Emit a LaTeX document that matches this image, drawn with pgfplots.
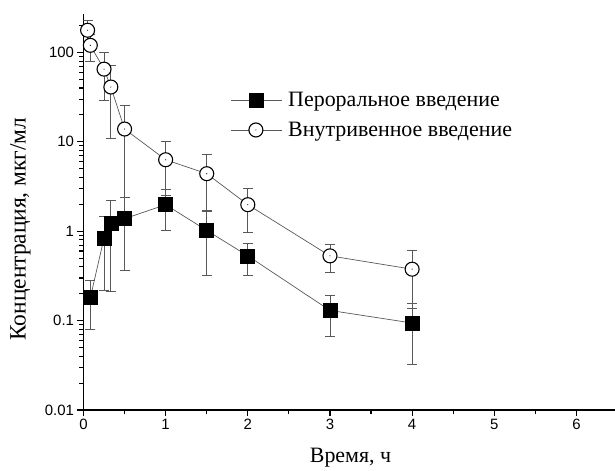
\documentclass[border=0pt]{standalone}
\usepackage{pgfplots}
\pgfplotsset{compat=1.18}
\usepackage{pgfplotstable}
\usepackage{fontspec}
\setmainfont{Liberation Serif}
\newfontfamily\arialfont{Liberation Sans}
\definecolor{ln}{gray}{0.35}

\pgfdeclareplotmark{codot}{%
  \pgfpathcircle{\pgfpointorigin}{\pgfplotmarksize}%
  \pgfusepathqfillstroke
  \begin{pgfscope}%
  \pgfsetfillcolor{black}%
  \pgfpathcircle{\pgfpointorigin}{0.6bp}%
  \pgfusepathqfill
  \end{pgfscope}}

\pgfplotstableread{
x y e
0.083 0.18 0.10
0.25 0.84 0.62
0.333 1.21 1.0
0.5 1.38 1.02
1 1.98 0.95
1.5 1.02 0.70
2 0.53 0.21
3 0.13 0.063
4 0.094 0.062
}\oral

\pgfplotstableread{
x y e
0.05 177 52
0.083 120 41
0.25 65 36
0.333 41 30
0.5 13.9 11.5
1 6.3 3.8
1.5 4.4 2.75
2 1.98 1.0
3 0.53 0.18
4 0.376 0.24
}\iv

\begin{document}
\begin{tikzpicture}
\begin{axis}[
  scale only axis, width=534bp, height=396bp,
  xmin=0, xmax=6.5, ymode=log, ymin=0.01, ymax=269,
  axis x line=bottom, axis y line=left,
  axis line style={-, line width=1.3bp},
  tick align=outside,
  xtick={0,1,2,3,4,5,6}, xticklabels={0,1,2,3,4,5,6}, minor x tick num=1,
  ytick={0.01,0.1,1,10,100}, yticklabels={0.01,0.1,1,10,100},
  minor ytick={0.02,0.03,0.04,0.05,0.06,0.07,0.08,0.09,
               0.2,0.3,0.4,0.5,0.6,0.7,0.8,0.9,
               2,3,4,5,6,7,8,9,20,30,40,50,60,70,80,90,200},
  major tick length=6bp, minor tick length=4bp,
  every tick/.style={black, line width=1.1bp},
  every minor tick/.style={black, line width=1.1bp},
  ticklabel style={font=\arialfont\fontsize{15}{15}\selectfont},
  xlabel={Время, ч}, ylabel={Концентрация, мкг/мл},
  xlabel style={font=\fontsize{22}{22}\selectfont,
    at={(axis description cs:0.5,0)}, anchor=center, yshift=-48bp},
  ylabel style={font=\fontsize{23.5}{23.5}\selectfont,
    at={(axis description cs:0,0.457)}, anchor=center, yshift=63bp},
  legend cell align=left,
  legend style={at={(axis description cs:0.275,0.808)}, anchor=north west,
    draw=none, fill=none, font=\fontsize{22}{22}\selectfont,
    row sep=10bp, inner sep=0pt,
    nodes={inner xsep=6bp}},
  legend image code/.code={%
    \draw[#1, mark=none] (0bp,0bp)--(19bp,0bp) (31bp,0bp)--(51bp,0bp);
    \draw[#1, mark size=3.5bp] plot coordinates {(25bp,0bp)};},
]
\addplot[ln, line width=0.7bp, mark=square*,
  mark options={solid, black, fill=black, mark size=7bp},
  error bars/.cd, y dir=both, y explicit,
  error bar style={ln, line width=0.8bp},
  error mark options={rotate=90, mark size=5bp, ln, line width=0.8bp}]
  table[x=x, y=y, y error=e] {\oral};
\addlegendentry{Пероральное введение}
\addplot[ln, line width=0.7bp, mark=codot,
  mark options={solid, draw=black, fill=white, line width=1.1bp, mark size=7bp},
  error bars/.cd, y dir=both, y explicit,
  error bar style={ln, line width=0.8bp},
  error mark options={rotate=90, mark size=5bp, ln, line width=0.8bp}]
  table[x=x, y=y, y error=e] {\iv};
\addlegendentry{Внутривенное введение}
\end{axis}
\pgfresetboundingbox
\path (-83.5bp,-61bp) rectangle (531.5bp,410bp);
\end{tikzpicture}
\end{document}
